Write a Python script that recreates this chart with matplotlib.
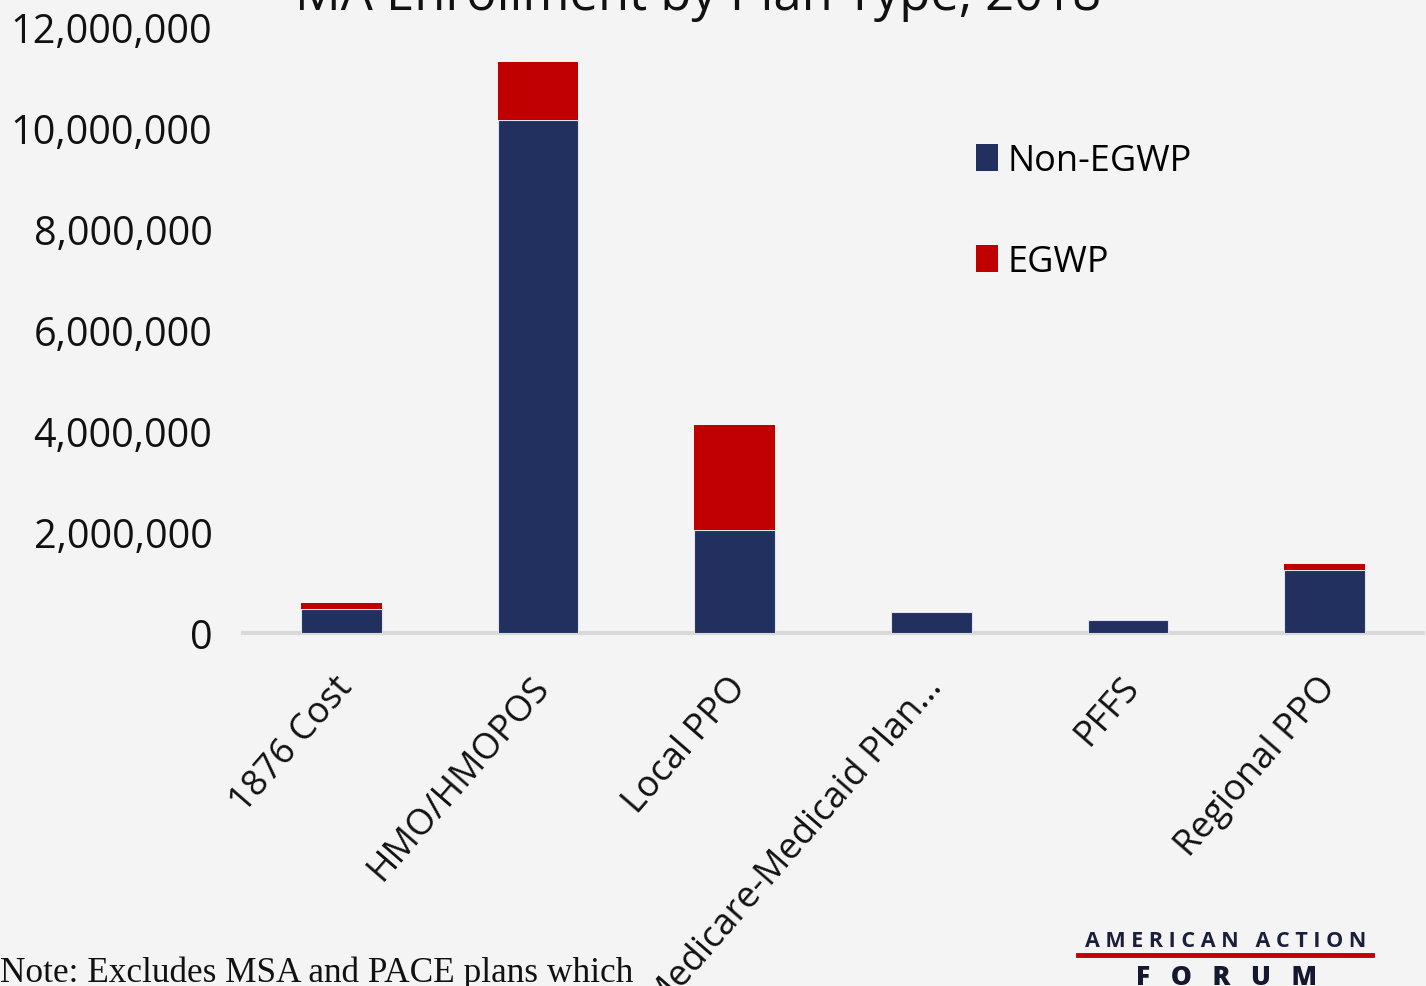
import matplotlib
matplotlib.use("Agg")
import matplotlib.pyplot as plt
import numpy as np
from matplotlib.ticker import FuncFormatter
from matplotlib.lines import Line2D
from matplotlib.transforms import ScaledTranslation

plt.rcParams['font.family'] = ['Open Sans', 'DejaVu Sans']

categories = ["1876 Cost", "HMO/HMOPOS", "Local PPO", "Medicare-Medicaid Plan...", "PFFS", "Regional PPO"]
non_egwp = [483000, 10160000, 2040000, 416000, 250000, 1240000]
egwp = [120000, 1150000, 2080000, 0, 0, 120000]
yticks = [0, 2000000, 4000000, 6000000, 8000000, 10000000, 12000000]
title = "MA Enrollment by Plan Type, 2018"
note = "Note: Excludes MSA and PACE plans which"

BG = "#f4f4f4"
NAVY = "#21305e"
RED = "#c00000"

fig = plt.figure(figsize=(14.26, 9.87), dpi=100, facecolor=BG)
ax = fig.add_axes([243/1426, 1-634/987, (1423-243)/1426, (634-28)/987])
ax.set_facecolor(BG)

x = np.arange(len(categories))
w = 0.41
b1 = ax.bar(x, non_egwp, w, color=NAVY, edgecolor="#dfe3ee", linewidth=0.8, label="Non-EGWP", zorder=3)
b2 = ax.bar(x, egwp, w, bottom=non_egwp, color=RED, linewidth=0, label="EGWP", zorder=3)

ax.set_xlim(-0.5, len(categories) - 0.5)
ax.set_ylim(0, 12000000)
ax.set_yticks(yticks)
ax.yaxis.set_major_formatter(FuncFormatter(lambda v, p: f"{int(v):,}"))
ax.tick_params(axis='y', length=0, labelsize=28.5, pad=22, labelcolor="#111111")
ax.set_xticks(x)
ax.set_xticklabels(categories, rotation=49, ha='right', va='top', rotation_mode='anchor', fontsize=26, color="#111111")
ax.tick_params(axis='x', length=0, pad=26)
off = ScaledTranslation(-8/100, 0, fig.dpi_scale_trans)
for lab in ax.get_xticklabels():
    lab.set_transform(lab.get_transform() + off)
for s in ax.spines.values():
    s.set_visible(False)
ax.axhline(0, color="#d9d9d9", linewidth=3, zorder=2, clip_on=False)

leg = ax.legend(handles=[b1, b2], loc='upper left', bbox_to_anchor=(976/1426, 1-144/987),
                bbox_transform=fig.transFigure, frameon=False, fontsize=26,
                handlelength=0.62, handleheight=0.8, handletextpad=0.25, labelspacing=1.8,
                borderpad=0, borderaxespad=0)
for h in leg.legend_handles:
    h.set_edgecolor('none')

fig.text(698/1426, 1-10/987, title, ha='center', va='baseline', fontsize=36.5, color="#111111")
fig.text(0, 1-982/987, note, ha='left', va='baseline', fontsize=25.4, family=['Liberation Serif', 'DejaVu Serif'], color="#111111")

# logo
fig.text(1226/1426, 1-947/987, "A M E R I C A N   A C T I O N", ha='center', va='baseline', fontsize=15.5,
         fontweight='bold', color="#1a1f3a")
fig.add_artist(Line2D([1078/1426, 1372/1426], [1-956/987, 1-956/987], color=RED, linewidth=3.5))
fig.text(1226/1426, 1-985/987, "F   O   R   U   M", ha='center', va='baseline', fontsize=19,
         fontweight='black', color="#141830")

fig.savefig("out.png", dpi=100, facecolor=BG)
